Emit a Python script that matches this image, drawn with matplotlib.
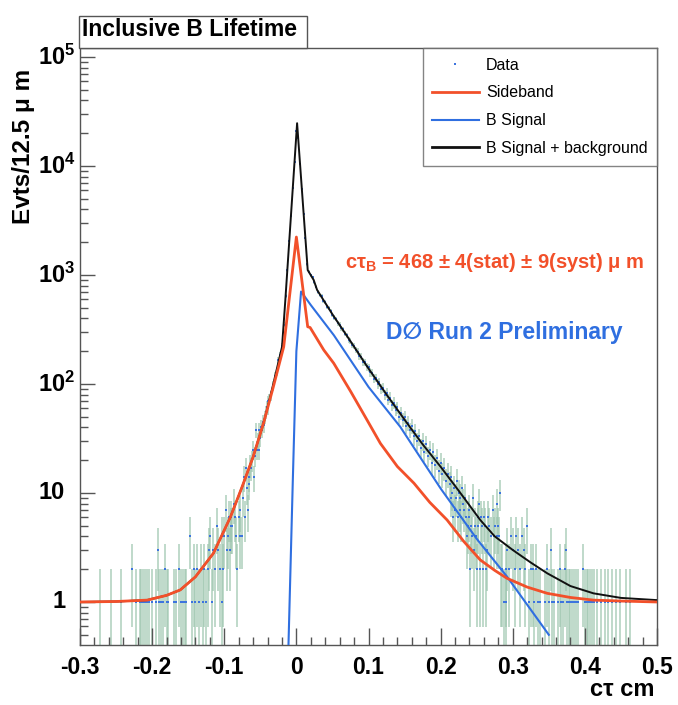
import numpy as np
import matplotlib
matplotlib.use("Agg")
import matplotlib.pyplot as plt
import matplotlib.transforms as mtransforms
from matplotlib.lines import Line2D
from matplotlib.patches import Rectangle

plt.rcParams['font.family'] = ['Liberation Sans', 'DejaVu Sans']
plt.rcParams['mathtext.fontset'] = 'custom'
plt.rcParams['mathtext.rm'] = 'Liberation Sans:bold'
plt.rcParams['mathtext.bf'] = 'Liberation Sans:bold'
plt.rcParams['mathtext.it'] = 'Liberation Sans:bold'

# ---------------- fit curves (c*tau in cm, events per 12.5 um) ----------------
sideband_x = [-0.300, -0.250, -0.207, -0.180, -0.161, -0.140, -0.115, -0.0915, -0.075,
              -0.060, -0.045, -0.032, -0.0176, 0.000, 0.0157, 0.019, 0.038, 0.0518,
              0.075, 0.098, 0.1165, 0.140, 0.163, 0.185, 0.209, 0.232, 0.255, 0.275,
              0.292, 0.320, 0.348, 0.380, 0.412, 0.450, 0.500]
sideband_y = [1.0, 1.01, 1.04, 1.15, 1.29, 1.7, 2.8, 6.0, 11.5,
              21.4, 45, 94, 219, 2230, 335, 330, 205, 155,
              86, 46.7, 28.5, 17.5, 12.3, 8.2, 5.65, 3.6, 2.43, 1.95,
              1.65, 1.37, 1.2, 1.1, 1.04, 1.02, 1.0]

signal_x = [-0.0112, -0.005, 0.000, 0.0065, 0.020, 0.052, 0.100, 0.144, 0.200, 0.250, 0.292, 0.350]
signal_y = [0.35, 12.6, 200, 705, 530, 280, 94, 40.5, 11.0, 3.8, 1.71, 0.5]

total_x = [-0.300, -0.250, -0.207, -0.180, -0.161, -0.140, -0.115, -0.0915, -0.075,
           -0.060, -0.045, -0.032, -0.0199, -0.0153, 0.001, 0.0157, 0.024, 0.0287,
           0.050, 0.075, 0.098, 0.125, 0.1535, 0.175, 0.200, 0.225, 0.255, 0.275,
           0.300, 0.325, 0.348, 0.380, 0.412, 0.450, 0.500]
total_y = [1.0, 1.01, 1.04, 1.15, 1.29, 1.7, 2.8, 6.0, 11.5,
           21.4, 45, 100, 219, 590, 24700, 1110, 900, 730,
           436, 247, 145, 80, 43.7, 28, 17.4, 10.5, 5.65, 4.0,
           3.0, 2.3, 1.83, 1.4, 1.2, 1.09, 1.04]

# ---------------- data: sparse left tail ----------------
left_x = [-0.2725, -0.2575, -0.2425, -0.2275, -0.2225, -0.2175, -0.2150, -0.2125, -0.2100,
          -0.2075, -0.2050, -0.2000, -0.1950, -0.1925, -0.1900, -0.1875, -0.1850, -0.1825,
          -0.1800, -0.1775, -0.1700, -0.1675, -0.1625, -0.1600, -0.1575, -0.1550, -0.1525,
          -0.1475, -0.1450, -0.1425, -0.1400, -0.1375, -0.1350, -0.1325, -0.1300, -0.12875,
          -0.1250, -0.1225, -0.12125, -0.1200, -0.1175, -0.1150, -0.1125, -0.1100, -0.10875,
          -0.10625, -0.10375, -0.1025, -0.10125, -0.1000, -0.0975, -0.09625, -0.0950, -0.09375,
          -0.0925, -0.09125, -0.0900, -0.08875, -0.08625, -0.0850, -0.08375, -0.0825, -0.0800,
          -0.07875, -0.0775, -0.0750, -0.07375, -0.0725, -0.07125, -0.0700, -0.06875, -0.0675,
          -0.06625, -0.0650, -0.06375, -0.0625, -0.06125, -0.0600, -0.05875, -0.0575, -0.05625,
          -0.0550, -0.05375, -0.0525, -0.05125, -0.0500, -0.04875, -0.0475, -0.04625, -0.0450,
          -0.04375, -0.0425, -0.04125, -0.0400, -0.03875, -0.0375]
left_n = [1, 1, 1, 2, 1, 1, 1, 1, 1,
          1, 1, 1, 1, 3, 1, 1, 1, 2,
          1, 1, 1, 1, 2, 1, 1, 1, 1,
          4, 1, 2, 1, 2, 1, 2, 1, 2,
          1, 2, 3, 4, 1, 3, 2, 5, 3,
          2, 1, 4, 2, 4, 7, 3, 4, 6,
          3, 5, 6, 5, 8, 6, 4, 2, 6,
          7, 4, 4, 9, 14, 6, 17, 11, 7,
          12, 14, 18, 17, 20, 25, 14, 22, 38,
          25, 30, 25, 38, 32, 40, 38, 45, 42,
          50, 55, 62, 60, 70, 72]

# ---------------- data: dense core, 25 um steps from -0.035 cm ----------------
core_start = -0.035
core_step = 0.0025
core_n = [78, 97, 118, 130, 165, 185, 225, 350, 640, 1100,
          2050, 3500, 6300, 11000, 21000, 18000, 10500, 6200, 3650, 2200,
          1250, 1070, 990, 950, 860, 780, 700, 650, 640, 580,
          560, 510, 495, 470, 430, 405, 395, 360, 350, 325,
          318, 290, 280, 255, 250, 230, 225, 205, 198, 180,
          178, 160, 158, 145, 142, 128, 126, 112, 114, 100,
          104, 90, 92, 80, 83, 72, 75, 64, 67, 58,
          61, 50, 54, 47, 50, 41, 44, 38, 41, 33,
          37, 30, 33, 26, 30, 24, 28, 22, 25, 19,
          24, 18, 21, 16, 19, 15, 17, 13, 15]

# ---------------- data: sparse right tail ----------------
right_x = [0.2125, 0.21375, 0.2150, 0.21625, 0.2175, 0.21875, 0.2200, 0.22125, 0.2225,
           0.22375, 0.2250, 0.22625, 0.2275, 0.22875, 0.2300, 0.23125, 0.2325, 0.23375,
           0.2350, 0.23625, 0.2375, 0.23875, 0.2400, 0.24125, 0.2425, 0.24375, 0.2450,
           0.24625, 0.2475, 0.24875, 0.2500, 0.25125, 0.2525, 0.25375, 0.2550, 0.25625,
           0.2575, 0.25875, 0.2600, 0.26125, 0.2625, 0.26375, 0.2650, 0.2675, 0.2700,
           0.2725, 0.27375, 0.2750, 0.2775, 0.27875, 0.2800, 0.28125, 0.2825, 0.28375,
           0.2850, 0.2875, 0.2900, 0.29125, 0.2925, 0.2950, 0.2975, 0.3000, 0.3025,
           0.3050, 0.3075, 0.3100, 0.3125, 0.3150, 0.3175, 0.3200, 0.3225, 0.3250,
           0.3275, 0.3300, 0.3325, 0.3350, 0.3375, 0.3450, 0.3475, 0.3500, 0.3525,
           0.3550, 0.3575, 0.3625, 0.3650, 0.3675, 0.3700, 0.3725, 0.37375, 0.3750,
           0.3775, 0.3800, 0.3825, 0.3850, 0.3875, 0.3900, 0.3975, 0.4000, 0.4025,
           0.4050, 0.4075, 0.4100, 0.4125, 0.4175, 0.4225, 0.4275, 0.4325, 0.4375,
           0.4425, 0.44875, 0.4575, 0.4625]
right_n = [12, 9, 14, 10, 6, 11, 7, 9, 13,
           6, 10, 7, 9, 6, 11, 8, 7, 9,
           6, 4, 5, 7, 6, 2, 5, 4, 9,
           3, 5, 4, 2, 6, 5, 8, 2, 6,
           5, 2, 6, 5, 2, 3, 6, 5, 4,
           7, 4, 5, 8, 4, 5, 4, 10, 2,
           2, 1, 2, 1, 3, 2, 4, 3, 2,
           4, 3, 2, 4, 3, 2, 5, 1, 2,
           2, 1, 2, 1, 1, 1, 2, 1, 3,
           1, 1, 1, 2, 1, 1, 2, 3, 1,
           1, 1, 1, 1, 1, 1, 2, 1, 1,
           1, 1, 1, 1, 1, 1, 1, 1, 1,
           1, 1, 1, 1]

x_ticks = [-0.3, -0.2, -0.1, 0.0, 0.1, 0.2, 0.3, 0.4, 0.5]
x_tick_labels = ['-0.3', '-0.2', '-0.1', '0', '0.1', '0.2', '0.3', '0.4', '0.5']
y_ticks = [1, 10, 100, 1000, 10000, 100000]
y_tick_labels = ['1', '10', r'$10^{2}$', r'$10^{3}$', r'$10^{4}$', r'$10^{5}$']

# ---------------- colours ----------------
C_RED = '#f2502a'
C_BLUE = '#2f6fe0'
C_BLACK = '#111111'
C_ERR = '#9cc5ae'
C_DOT = '#3d74de'

W, H = 678, 705
fig = plt.figure(figsize=(W / 100, H / 100), dpi=100)
fig.patch.set_facecolor('white')
ax = fig.add_axes([80 / W, 60 / H, 577 / W, 597 / H])

Y_LO, Y_HI = 0.403, 1.21e5

# data points with sqrt(N) error bars
core_x = core_start + core_step * np.arange(len(core_n))
data_x = np.concatenate([left_x, core_x, right_x])
data_n = np.concatenate([left_n, core_n, right_n]).astype(float)
err = np.sqrt(data_n)
lo = np.maximum(data_n - err, Y_LO * 0.9)
hi = data_n + err
ax.vlines(data_x, lo, hi, color=C_ERR, lw=1.3, alpha=0.7, zorder=1)
ax.plot(data_x, data_n, 's', ms=2.0, mew=0, color=C_DOT, zorder=2)

# fit curves
ax.plot(total_x, total_y, '-', color=C_BLACK, lw=1.4, zorder=3)
ax.plot(signal_x, signal_y, '-', color=C_BLUE, lw=1.5, zorder=4)
ax.plot(sideband_x, sideband_y, '-', color=C_RED, lw=2.0, zorder=5)

ax.set_yscale('log')
ax.set_xlim(-0.3, 0.5)
ax.set_ylim(Y_LO, Y_HI)

ax.set_xticks(x_ticks)
ax.set_xticklabels(x_tick_labels, fontsize=16.5, fontweight='bold')
ax.set_xticks(np.arange(-0.28, 0.5, 0.02), minor=True)
ax.set_yticks(y_ticks)
ax.set_yticklabels([])
ax.yaxis.set_minor_locator(matplotlib.ticker.LogLocator(base=10, subs=np.arange(2, 10)))
ax.yaxis.set_minor_formatter(matplotlib.ticker.NullFormatter())

# y tick labels, left-set in the axis margin
ylab_tr = mtransforms.blended_transform_factory(fig.transFigure, ax.transData)
for v, lab in zip(y_ticks, y_tick_labels):
    xpx = 52 if lab == '1' else 38
    ax.text(xpx / W, v, lab, transform=ylab_tr, ha='left', va='center',
            fontsize=17, fontweight='bold', clip_on=False)

ax.tick_params(axis='both', which='both', direction='in', top=False, right=False,
               color='#555555', width=1.0)
ax.tick_params(axis='x', which='major', length=12, pad=8)
ax.tick_params(axis='x', which='minor', length=6)
ax.tick_params(axis='y', which='major', length=11)
ax.tick_params(axis='y', which='minor', length=6)
for s in ax.spines.values():
    s.set_color('#555555')
    s.set_linewidth(1.0)

# axis titles
fig.text(24 / W, 1 - 146 / H, 'Evts/12.5 \u03bc m', rotation=90, ha='center', va='center',
         fontsize=17.5, fontweight='bold')
fig.text(655 / W, 1 - 690 / H, 'c\u03c4 cm', ha='right', va='center',
         fontsize=17, fontweight='bold')

# title box
fig.add_artist(Rectangle((79 / W, 1 - 48 / H), 228 / W, 32 / H, transform=fig.transFigure,
                         facecolor='white', edgecolor='#555555', lw=1.0, zorder=10))
fig.text(189 / W, 1 - 29 / H, 'Inclusive B Lifetime', ha='center', va='center',
         fontsize=16.5, fontweight='bold', zorder=11)

# annotations
ax.text(0.719, 0.6415, r'c$\tau_{\rm B}$ = 468 $\pm$ 4(stat) $\pm$ 9(syst) $\mu$ m',
        transform=ax.transAxes, color=C_RED, fontsize=14.5, fontweight='bold',
        ha='center', va='center')
ax.text(0.735, 0.524, 'D\u2205 Run 2 Preliminary', transform=ax.transAxes,
        color=C_BLUE, fontsize=16.5, fontweight='bold', ha='center', va='center')

# legend
handles = [Line2D([], [], ls='none', marker='s', ms=2.0, mew=0, color=C_DOT),
           Line2D([], [], color=C_RED, lw=2.0),
           Line2D([], [], color=C_BLUE, lw=1.5),
           Line2D([], [], color=C_BLACK, lw=2.0)]
labels = ['Data', 'Sideband', 'B Signal', 'B Signal + background']
leg = ax.legend(handles, labels, loc='upper right', bbox_to_anchor=(1.0, 1.0),
                prop={'size': 11.5}, frameon=True, fancybox=False, shadow=False,
                handlelength=2.9, handletextpad=0.45, labelspacing=0.8,
                borderpad=0.6, borderaxespad=0.0)
leg.get_frame().set_edgecolor('#666666')
leg.get_frame().set_linewidth(1.0)

fig.savefig('out.png', dpi=100, facecolor='white')
